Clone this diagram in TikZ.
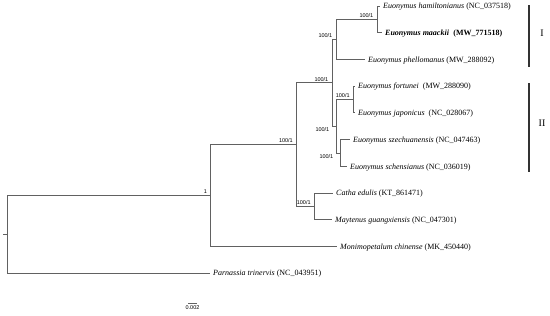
\documentclass[tikz,border=0pt]{standalone}
\usepackage{fontspec}
\setmainfont{Liberation Serif}
\newfontfamily\supfont{Liberation Sans}
\usetikzlibrary{positioning}

\begin{document}
\begin{tikzpicture}[
        x=1pt, y=-1pt,
    branch/.style={draw=brx, line width=0.7pt},
    taxon/.style={anchor=west, inner xsep=3pt, inner ysep=0pt,
        font=\fontsize{8}{9}\selectfont, text height=1.5ex, text depth=0.25ex},
    support/.style={font=\supfont\fontsize{5.5}{6}\selectfont, inner sep=0.5pt},
    bar/.style={draw=clx, line width=1.1pt},
    clade/.style={font=\fontsize{10}{11}\selectfont, inner sep=0pt}
]
\colorlet{brx}{black!62}
\colorlet{clx}{black!80}

    \useasboundingbox (0,0) rectangle (550,316);

    \coordinate (stub) at (3,234.2);
    \coordinate (root) at (7.3,234.2);
    \coordinate (nA) at (210.7,195.4);
    \coordinate (nB) at (296.5,144.5);
    \coordinate (nC) at (332,82.8);
    \coordinate (nD) at (314.3,206.2);
    \coordinate (nI) at (336,39.4);
    \coordinate (nHM) at (377,19.35);
    \coordinate (nII) at (336,126.2);
    \coordinate (nFJ) at (353.3,99.5);
    \coordinate (nSS) at (340,152.9);

    \node[taxon] (ham) at (380,6) {\textit{Euonymus hamiltonianus} (NC\_037518)};
    \node[taxon] (maa) at (382,32.7) {\bfseries\textit{Euonymus maackii}\hspace{0.55em}(MW\_771518)};
    \node[taxon] (phe) at (365,59.4) {\textit{Euonymus phellomanus} (MW\_288092)};
    \node[taxon] (for) at (355,86.1) {\textit{Euonymus fortunei}\hspace{0.5em}(MW\_288090)};
    \node[taxon] (jap) at (355,112.8) {\textit{Euonymus japonicus}\hspace{0.5em}(NC\_028067)};
    \node[taxon] (sze) at (350,139.5) {\textit{Euonymus szechuanensis} (NC\_047463)};
    \node[taxon] (sch) at (347,166.2) {\textit{Euonymus schensianus} (NC\_036019)};
    \node[taxon] (cat) at (333,192.9) {\textit{Catha edulis} (KT\_861471)};
    \node[taxon] (may) at (332,219.6) {\textit{Maytenus guangxiensis} (NC\_047301)};
    \node[taxon] (mon) at (337,246.3) {\textit{Monimopetalum chinense} (MK\_450440)};
    \node[taxon] (par) at (210,273) {\textit{Parnassia trinervis} (NC\_043951)};

    \draw [branch] (stub) -- (root);
    \draw [branch] (root) |- (nA);
    \draw [branch] (root) |- (par);
    \draw [branch] (nA) |- (nB);
    \draw [branch] (nA) |- (mon);
    \draw [branch] (nB) |- (nC);
    \draw [branch] (nB) |- (nD);
    \draw [branch] (nD) |- (cat);
    \draw [branch] (nD) |- (may);
    \draw [branch] (nC) |- (nI);
    \draw [branch] (nC) |- (nII);
    \draw [branch] (nI) |- (nHM);
    \draw [branch] (nI) |- (phe);
    \draw [branch] (nHM) |- (ham);
    \draw [branch] (nHM) |- (maa);
    \draw [branch] (nII) |- (nFJ);
    \draw [branch] (nII) |- (nSS);
    \draw [branch] (nFJ) |- (for);
    \draw [branch] (nFJ) |- (jap);
    \draw [branch] (nSS) |- (sze);
    \draw [branch] (nSS) |- (sch);

    \node[support, anchor=south east] (sA) at ([xshift=-3pt,yshift=1pt]nA) {1};
    \node[support, anchor=south east] (sB) at ([xshift=-3pt,yshift=1pt]nB) {100/1};
    \node[support, anchor=south east] (sC) at ([xshift=-3pt,yshift=1pt]nC) {100/1};
    \node[support, anchor=south east] (sD) at ([xshift=-3pt,yshift=1pt]nD) {100/1};
    \node[support, anchor=south east] (sI) at ([xshift=-3pt,yshift=1pt]nI) {100/1};
    \node[support, anchor=south east] (sHM) at ([xshift=-3pt,yshift=1pt]nHM) {100/1};
    \node[support, anchor=north east] (sII) at ([xshift=-6pt,yshift=-1pt]nII) {100/1};
    \node[support, anchor=south east] (sFJ) at ([xshift=-3pt,yshift=1pt]nFJ) {100/1};
    \node[support, anchor=north east] (sSS) at ([xshift=-6pt,yshift=-1pt]nSS) {100/1};

    \coordinate (ItopB) at (529,5);
    \coordinate (IbotB) at (529,67);
    \coordinate (IItopB) at (529,83);
    \coordinate (IIbotB) at (529,172);
    \draw [bar] (ItopB) -- (IbotB);
    \draw [bar] (IItopB) -- (IIbotB);
    \node[clade] (cI) at (542,33) {I};
    \node[clade] (cII) at (542,123) {II};

    \coordinate (sbl) at (188,303);
    \coordinate (sbr) at (197,303);
    \draw [branch] (sbl) -- (sbr);
    \path (sbl) -- (sbr) coordinate[midway] (sbm);
    \node[support, below=2pt of sbm] (sbt) {0.002};
\end{tikzpicture}
\end{document}
